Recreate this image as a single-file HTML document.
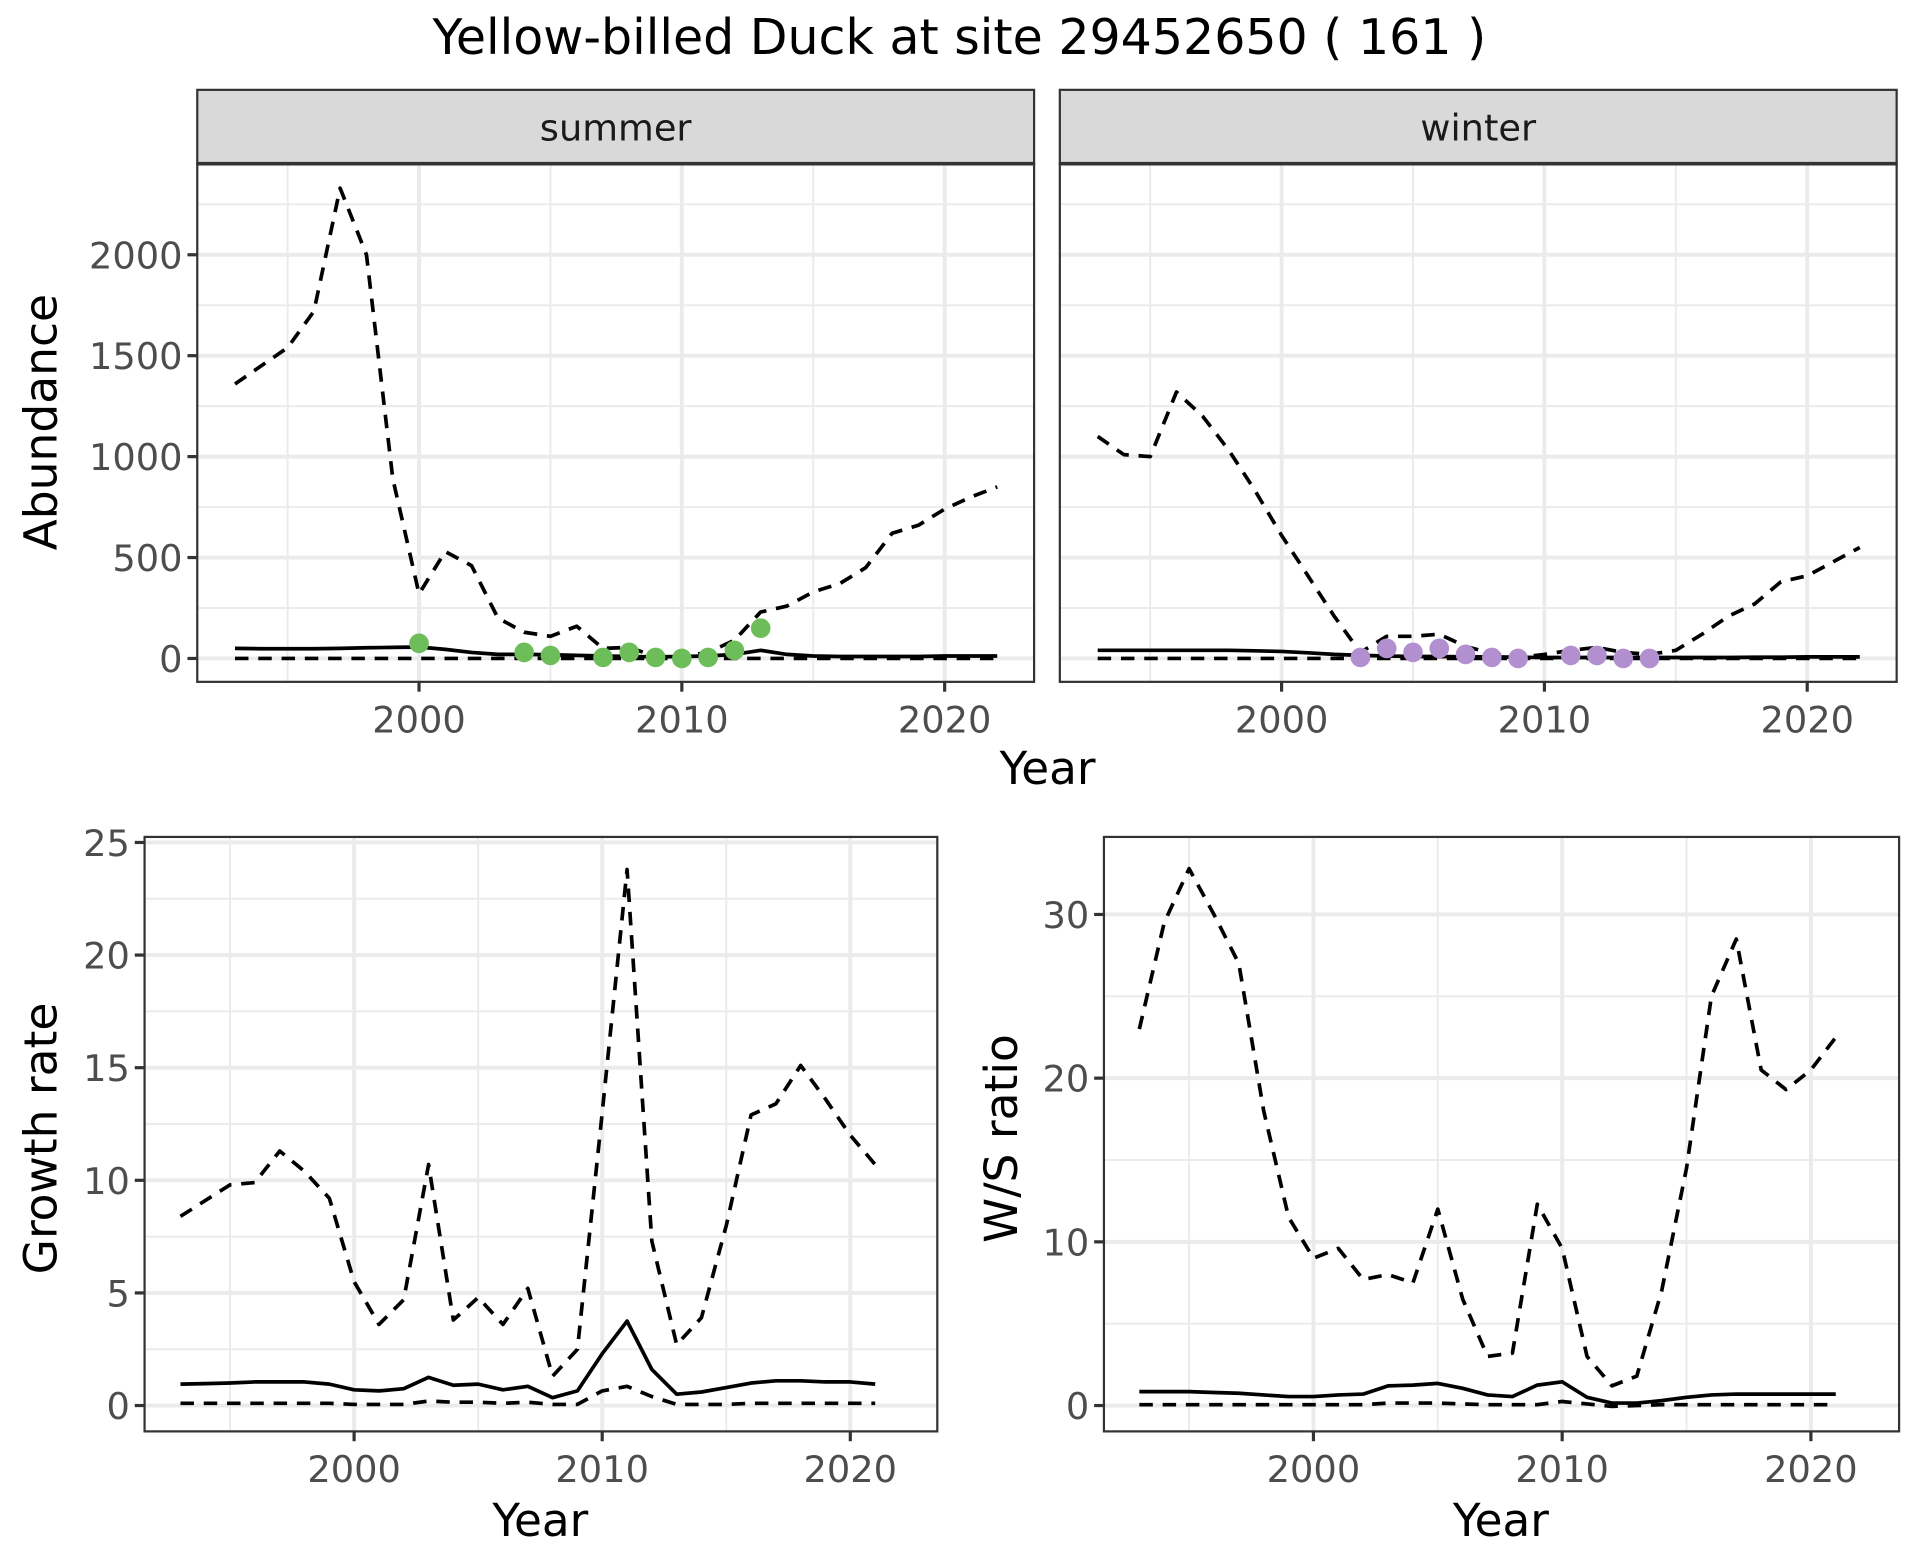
<!DOCTYPE html>
<html><head><meta charset="utf-8"><style>
html,body{margin:0;padding:0;background:#fff;}
svg{display:block;}
text{font-family:"DejaVu Sans","Liberation Sans",sans-serif;}
</style></head><body>
<svg id="s" width="1920" height="1560" viewBox="0 0 1560 1267.5" xmlns="http://www.w3.org/2000/svg">
<rect width="1560" height="1267.5" fill="#fff"/>
<g transform="scale(0.9955 1)">
<text x="783" y="44" font-size="40" text-anchor="middle" fill="#000">Yellow-billed Duck at site 29452650 ( 161 )</text>
<g id="g"></g>
</g>
</svg>
<script>
var g=document.getElementById('g');var h='';
function L(x1,y1,x2,y2,c,w){h+='<line x1="'+x1+'" y1="'+y1+'" x2="'+x2+'" y2="'+y2+'" stroke="'+c+'" stroke-width="'+w+'"/>';}
function T(x,y,s,fs,a,c,rot){h+='<text x="'+x+'" y="'+y+'" font-size="'+fs+'" text-anchor="'+a+'" fill="'+c+'"'+(rot?' transform="rotate(-90 '+x+' '+y+')"':'')+'>'+s+'</text>';}
function P(pts,dash,w){h+='<polyline fill="none" stroke="#000" stroke-width="'+(w||3)+'" stroke-linejoin="round" points="'+pts.map(function(p){return p[0].toFixed(1)+','+p[1].toFixed(1)}).join(' ')+'"'+(dash?' stroke-dasharray="11,8"':'')+'/>';}
function panel(o){
 h+='<rect x="'+o.x0+'" y="'+o.y0+'" width="'+(o.x1-o.x0)+'" height="'+(o.y1-o.y0)+'" fill="#fff"/>';
 o.ym.forEach(function(v){var y=o.ymap(v);L(o.x0,y,o.x1,y,'#EBEBEB',1.6);});
 [1995,2005,2015].forEach(function(v){var x=o.xmap(v);L(x,o.y0,x,o.y1,'#EBEBEB',1.6);});
 o.yt.forEach(function(v){var y=o.ymap(v);L(o.x0,y,o.x1,y,'#EBEBEB',3.2);});
 [2000,2010,2020].forEach(function(v){var x=o.xmap(v);L(x,o.y0,x,o.y1,'#EBEBEB',3.2);});
}
function border(o){h+='<rect x="'+o.x0+'" y="'+o.y0+'" width="'+(o.x1-o.x0)+'" height="'+(o.y1-o.y0)+'" fill="none" stroke="#333" stroke-width="1.8"/>';}
function yaxis(o,labels){o.yt.forEach(function(v,i){var y=o.ymap(v);L(o.x0-8,y,o.x0,y,'#333',2.6);if(labels)T(o.x0-12,y+11,String(v),30,'end','#4D4D4D');});}
function xaxis(o){[2000,2010,2020].forEach(function(v){var x=o.xmap(v);L(x,o.y1,x,o.y1+8,'#333',2.6);T(x,o.y1+41,String(v),30,'middle','#4D4D4D');});}
function yrs(a,b){var r=[];for(var i=a;i<=b;i++)r.push(i);return r;}
function ser(o,vals,start){return vals.map(function(v,i){return [o.xmap(start+i),o.ymap(v)];});}

var A={x0:161,x1:844,y0:133,y1:554,xmap:function(v){return 342+(v-2000)*21.45},ymap:function(v){return 535-v*0.164},yt:[0,500,1000,1500,2000],ym:[250,750,1250,1750,2250]};
var B={x0:865,x1:1548,y0:133,y1:554,xmap:function(v){return 1046+(v-2000)*21.45},ymap:A.ymap,yt:A.yt,ym:A.ym};
panel(A);panel(B);
var su=[1360,1450,1540,1720,2330,2000,890,320,530,460,200,130,110,160,50,55,10,10,30,90,230,260,330,370,450,620,660,740,800,850];
P(ser(A,su,1993),true);
P(ser(A,[50,48,48,48,50,53,55,57,45,30,20,20,18,15,12,10,8,10,12,20,40,20,12,10,10,10,10,12,12,12],1993),false);
P(ser(A,yrs(1993,2022).map(function(){return 0}),1993),true);
[[2000,75],[2004,30],[2005,15],[2007,5],[2008,30],[2009,5],[2010,0],[2011,5],[2012,40],[2013,150]].forEach(function(p){h+='<circle cx="'+A.xmap(p[0])+'" cy="'+A.ymap(p[1])+'" r="8" fill="#6DBE5A"/>';});
var wi=[1100,1010,1000,1320,1200,1030,830,610,410,210,30,110,110,120,60,25,5,20,40,55,30,20,40,120,210,270,380,410,480,550];
P(ser(B,wi,1993),true);
P(ser(B,[40,40,40,40,40,40,38,35,28,20,15,12,10,10,8,8,6,5,5,5,5,5,5,5,5,6,6,8,8,8],1993),false);
P(ser(B,yrs(1993,2022).map(function(){return 0}),1993),true);
[[2003,5],[2004,50],[2005,30],[2006,50],[2007,20],[2008,5],[2009,0],[2011,15],[2012,15],[2013,0],[2014,0]].forEach(function(p){h+='<circle cx="'+B.xmap(p[0])+'" cy="'+B.ymap(p[1])+'" r="8" fill="#B28FCE"/>';});
border(A);border(B);
yaxis(A,true);
xaxis(A);xaxis(B);
h+='<rect x="161" y="73" width="683" height="60" fill="#D9D9D9" stroke="#333" stroke-width="1.8"/>';
h+='<rect x="865" y="73" width="683" height="60" fill="#D9D9D9" stroke="#333" stroke-width="1.8"/>';
L(161,133,844,133,'#333',3);L(865,133,1548,133,'#333',3);
T(502.5,114,'summer',30,'middle','#1A1A1A');T(1206.5,114,'winter',30,'middle','#1A1A1A');
T(855,637,'Year',37,'middle','#000');
T(46,343,'Abundance',37,'middle','#000',true);

var C={x0:118,x1:765,y0:680,y1:1163,xmap:function(v){return 289+(v-2000)*20.25},ymap:function(v){return 1142-v*18.3},yt:[0,5,10,15,20,25],ym:[2.5,7.5,12.5,17.5,22.5]};
panel(C);
P(ser(C,[8.4,9.1,9.8,9.9,11.3,10.4,9.2,5.5,3.6,4.7,10.7,3.8,4.8,3.6,5.2,1.3,2.5,13,23.8,7.3,2.7,3.9,8,12.9,13.4,15.1,13.6,12,10.7],1993),true);
P(ser(C,[0.95,0.97,1.0,1.05,1.05,1.05,0.95,0.7,0.65,0.75,1.25,0.9,0.95,0.7,0.85,0.35,0.65,2.3,3.75,1.6,0.5,0.6,0.8,1.0,1.1,1.1,1.05,1.05,0.95],1993),false);
P(ser(C,[0.1,0.1,0.1,0.1,0.1,0.1,0.1,0.05,0.05,0.05,0.2,0.15,0.15,0.1,0.15,0.05,0.05,0.65,0.85,0.4,0.05,0.05,0.05,0.1,0.1,0.1,0.1,0.1,0.1],1993),true);
border(C);yaxis(C,true);xaxis(C);
T(441,1248,'Year',37,'middle','#000');
T(46,925,'Growth rate',37,'middle','#000',true);

var D={x0:901,x1:1550,y0:680,y1:1163,xmap:function(v){return 1072+(v-2000)*20.3},ymap:function(v){return 1142-v*13.3},yt:[0,10,20,30],ym:[5,15,25]};
panel(D);
P(ser(D,[23,29.5,32.8,30,27,18,11.5,9,9.6,7.7,8,7.5,12,6.5,3,3.2,12.3,9.6,3,1.2,1.8,7,14.5,25,28.5,20.5,19.3,20.5,22.5],1993),true);
P(ser(D,[0.85,0.85,0.85,0.8,0.75,0.65,0.55,0.55,0.65,0.7,1.2,1.25,1.35,1.05,0.65,0.55,1.25,1.45,0.5,0.15,0.15,0.3,0.5,0.65,0.7,0.7,0.7,0.7,0.7],1993),false);
P(ser(D,[0.05,0.05,0.05,0.05,0.05,0.05,0.05,0.05,0.05,0.05,0.15,0.15,0.15,0.1,0.05,0.05,0.05,0.25,0.1,-0.05,0,0.05,0.05,0.05,0.05,0.05,0.05,0.05,0.05],1993),true);
border(D);yaxis(D,true);xaxis(D);
T(1225,1248,'Year',37,'middle','#000');
T(830,925,'W/S ratio',37,'middle','#000',true);
g.innerHTML=h;
</script>
</body></html>
